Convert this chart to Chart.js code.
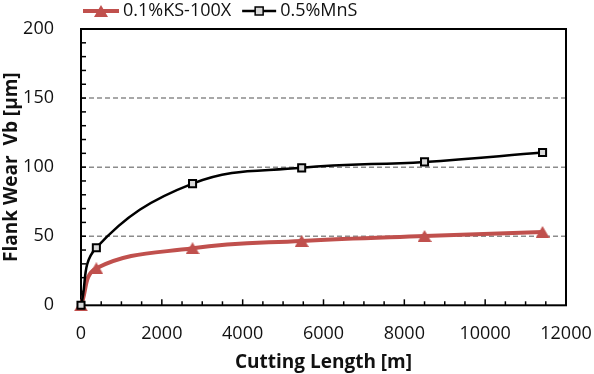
<!DOCTYPE html>
<html>
<head>
<meta charset="utf-8">
<script src="https://cdn.jsdelivr.net/npm/chart.js@4.4.1/dist/chart.umd.min.js"></script>
<style>
  html, body { margin: 0; padding: 0; background: #fff; }
  #wrap { width: 594px; height: 374px; position: relative; }
</style>
</head>
<body>
<div id="wrap"><canvas id="wear"></canvas></div>
<script>
const cuttingLength = [0, 380, 2760, 5460, 8500, 11420];
const wearKS = [0, 26.8, 41.3, 46.6, 50.2, 53.1];
const wearMnS = [0, 41.7, 88.1, 99.5, 103.8, 110.6];
const seriesLabels = ["0.1%KS-100X", "0.5%MnS"];
const xTicks = [0, 2000, 4000, 6000, 8000, 10000, 12000];
const yTicks = [0, 50, 100, 150, 200];
const dashedAt = [50, 100, 150];

const RED = "#c0504d";
const FONT = "'Open Sans', sans-serif";

function makeTriangle(w, h, color) {
  const c = document.createElement("canvas");
  c.width = w;
  c.height = h;
  const g = c.getContext("2d");
  g.fillStyle = color;
  g.beginPath();
  g.moveTo(w / 2, 0);
  g.lineTo(w, h);
  g.lineTo(0, h);
  g.closePath();
  g.fill();
  return c;
}
const triangle = makeTriangle(14, 12, RED);

const toPoints = (ys) => cuttingLength.map((x, i) => ({ x: x, y: ys[i] }));

// frame, dashed grid lines and the little inward ticks
const framePlugin = {
  id: "frame",
  beforeDatasetsDraw(chart) {
    const { ctx, chartArea: a, scales } = chart;
    const x = scales.x, y = scales.y;
    ctx.save();
    ctx.strokeStyle = "#8c8c8c";
    ctx.lineWidth = 1.5;
    ctx.setLineDash([5, 3]);
    dashedAt.forEach((v) => {
      const py = y.getPixelForValue(v);
      ctx.beginPath();
      ctx.moveTo(a.left, py);
      ctx.lineTo(a.right, py);
      ctx.stroke();
    });
    ctx.setLineDash([]);
    ctx.strokeStyle = "#000";
    ctx.lineWidth = 1.5;
    for (let v = 500; v < 12000; v += 500) {
      const px = x.getPixelForValue(v);
      const len = v % 2000 === 0 ? 6 : 4;
      ctx.beginPath();
      ctx.moveTo(px, a.bottom);
      ctx.lineTo(px, a.bottom - len);
      ctx.stroke();
    }
    for (let v = 10; v < 200; v += 10) {
      const py = y.getPixelForValue(v);
      ctx.beginPath();
      ctx.moveTo(a.left, py);
      ctx.lineTo(a.left + 5, py);
      ctx.stroke();
    }
    ctx.lineWidth = 2;
    ctx.strokeRect(a.left, a.top, a.right - a.left, a.bottom - a.top);
    ctx.restore();
  },
};

// excel style legend: line with marker, then label
const legendPlugin = {
  id: "xlLegend",
  afterDraw(chart) {
    const { ctx } = chart;
    const ly = 11;
    ctx.save();
    ctx.font = "18px " + FONT;
    ctx.textBaseline = "middle";
    ctx.fillStyle = "#111";
    let lx = 83;
    // first series
    ctx.strokeStyle = RED;
    ctx.lineWidth = 4;
    ctx.beginPath();
    ctx.moveTo(lx, ly);
    ctx.lineTo(lx + 36, ly);
    ctx.stroke();
    ctx.drawImage(triangle, lx + 18 - 7, ly - 6);
    lx += 40;
    ctx.fillText(seriesLabels[0], lx, ly);
    lx += ctx.measureText(seriesLabels[0]).width + 11;
    // second series
    ctx.strokeStyle = "#000";
    ctx.lineWidth = 2.5;
    ctx.beginPath();
    ctx.moveTo(lx, ly);
    ctx.lineTo(lx + 34, ly);
    ctx.stroke();
    ctx.fillStyle = "#d9d9d9";
    ctx.fillRect(lx + 13, ly - 4, 8, 8);
    ctx.lineWidth = 1.5;
    ctx.strokeRect(lx + 13, ly - 4, 8, 8);
    lx += 38;
    ctx.fillStyle = "#111";
    ctx.fillText(seriesLabels[1], lx, ly);
    ctx.restore();
  },
};

new Chart(document.getElementById("wear"), {
  type: "line",
  data: {
    datasets: [
      {
        label: seriesLabels[1],
        data: toPoints(wearMnS),
        borderColor: "#000",
        borderWidth: 2.5,
        tension: 0.4,
        pointStyle: "rect",
        pointRadius: 5,
        pointBackgroundColor: "#d9d9d9",
        pointBorderColor: "#000",
        pointBorderWidth: 2,
        clip: false,
      },
      {
        label: seriesLabels[0],
        data: toPoints(wearKS),
        borderColor: RED,
        borderWidth: 4,
        tension: 0.4,
        pointStyle: triangle,
        clip: false,
      },
    ],
  },
  options: {
    responsive: true,
    maintainAspectRatio: false,
    animation: false,
    layout: { padding: { top: 29, right: 28, left: 0, bottom: 0 } },
    plugins: {
      legend: { display: false },
      tooltip: { enabled: false },
    },
    scales: {
      x: {
        type: "linear",
        min: 0,
        max: 12000,
        afterBuildTicks: (s) => { s.ticks = xTicks.map((v) => ({ value: v })); },
        afterFit: (s) => { s.height = 68.7; },
        // tickLength only used as label offset, the grid itself is drawn by the plugin
        grid: { display: false, drawTicks: true, tickLength: 18 },
        border: { display: false },
        ticks: {
          padding: 0,
          color: "#111",
          maxRotation: 0,
          font: { family: FONT, size: 18 },
          callback: (v) => String(v),
        },
        title: {
          display: true,
          text: "Cutting Length [m]",
          color: "#111",
          padding: { top: 0, bottom: 0 },
          font: { family: FONT, size: 19, weight: "bold" },
        },
      },
      y: {
        min: 0,
        max: 200,
        afterBuildTicks: (s) => { s.ticks = yTicks.map((v) => ({ value: v })); },
        afterFit: (s) => { s.width = 81; },
        grid: { display: false, drawTicks: true, tickLength: 27 },
        border: { display: false },
        ticks: {
          padding: 0,
          color: "#111",
          font: { family: FONT, size: 18 },
          callback: (v) => String(v),
        },
        title: {
          display: true,
          text: "Flank Wear  Vb [µm]",
          color: "#111",
          padding: { top: 0, bottom: 0 },
          font: { family: FONT, size: 19, weight: "bold" },
        },
      },
    },
  },
  plugins: [framePlugin, legendPlugin],
});
</script>
</body>
</html>
